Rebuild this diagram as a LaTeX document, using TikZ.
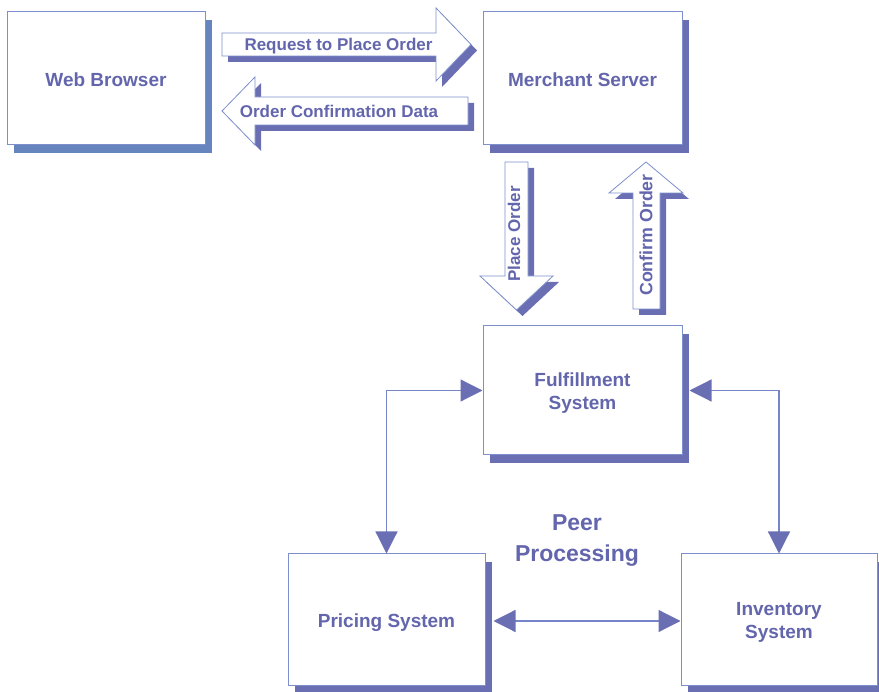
\documentclass[tikz,border=0pt]{standalone}
\usepackage{fontspec}
\setmainfont{Liberation Sans}
\usetikzlibrary{arrows.meta,shadows}
\definecolor{txt}{RGB}{99,102,173}
\definecolor{bord}{RGB}{125,143,204}
\definecolor{shd}{RGB}{106,110,178}
\definecolor{shdw}{RGB}{102,132,190}
\definecolor{con}{RGB}{118,132,200}
\begin{document}
\begin{tikzpicture}[x=1pt,y=-1pt,
  sysbox/.style={draw=bord, line width=1pt, fill=white, inner sep=0pt,
    drop shadow={shadow xshift=7pt, shadow yshift=-8pt, fill=shd, opacity=1, draw=none}},
  boxtext/.style={text=txt, font=\fontsize{19}{23}\selectfont\bfseries, align=center, yshift=-3pt, inner sep=0pt},
  blk/.style={fill=white, draw=bord, line width=0.8pt, line join=miter},
  blksh/.style={fill=shd, shift={(6,6)}},
  lbl/.style={text=txt, font=\fontsize{17}{20}\selectfont\bfseries, inner sep=0pt},
  conn/.style={draw=con, line width=1.2pt, {Triangle[length=22pt, width=22pt, color=shd]}-{Triangle[length=22pt, width=22pt, color=shd]}}
]
\useasboundingbox (0,0) rectangle (879,692);
\clip (0,0) rectangle (879,692);

% system boxes
\node[sysbox, minimum width=198pt, minimum height=133pt,
  drop shadow={shadow xshift=7pt, shadow yshift=-8pt, fill=shdw, opacity=1, draw=none},
  label={[boxtext, yshift=2pt]center:Web Browser}]
  (web) at (106,78.5) {};
\node[sysbox, minimum width=199pt, minimum height=133pt,
  label={[boxtext, yshift=2pt]center:Merchant Server}] (merch) at (582.5,78.5) {};
\node[sysbox, minimum width=199pt, minimum height=129pt,
  label={[boxtext]center:Fulfillment\\System}] (fulf) at (582.5,390.5) {};
\node[sysbox, minimum width=197pt, minimum height=131pt,
  label={[boxtext]center:Pricing System}] (price) at (386.5,619.5) {};
\node[sysbox, minimum width=196pt, minimum height=131pt,
  label={[boxtext]center:Inventory\\System}] (inv) at (779,619.5) {};

% block arrows: shadows
\fill[blksh] (222,33) -- (436,33) -- (436,8) -- (471,44.5) -- (436,81) -- (436,56) -- (222,56) -- cycle;
\fill[blksh] (468,97) -- (255,97) -- (255,77) -- (222,111) -- (255,145) -- (255,125) -- (468,125) -- cycle;
\fill[blksh] (505,162) -- (528,162) -- (528,276) -- (553,276) -- (516.5,310) -- (480,276) -- (505,276) -- cycle;
\fill[blksh] (633,309) -- (660,309) -- (660,193) -- (683,193) -- (646,162) -- (609,193) -- (633,193) -- cycle;
% block arrows
\draw[blk] (222,33) -- (436,33) -- (436,8) -- (471,44.5) -- (436,81) -- (436,56) -- (222,56) -- cycle;
\draw[blk] (468,97) -- (255,97) -- (255,77) -- (222,111) -- (255,145) -- (255,125) -- (468,125) -- cycle;
\draw[blk] (505,162) -- (528,162) -- (528,276) -- (553,276) -- (516.5,310) -- (480,276) -- (505,276) -- cycle;
\draw[blk] (633,309) -- (660,309) -- (660,193) -- (683,193) -- (646,162) -- (609,193) -- (633,193) -- cycle;

\node[lbl] (req) at (338.5,46.5) {Request to Place Order};
\node[lbl] (ocd) at (339,111) {Order Confirmation Data};
\node[lbl, rotate=90] (po) at (514,234) {Place Order};
\node[lbl, rotate=90, font=\fontsize{17.8}{20}\selectfont\bfseries] (co) at (646,235) {Confirm Order};

% peer connectors
\draw[conn] (price.north) |- (fulf.west);
\draw[conn] ([xshift=7pt]fulf.east) -| (inv.north);
\draw[conn] ([xshift=8pt,yshift=-1.5pt]price.east) -- ([yshift=-1.5pt]inv.west);

\node[text=txt, font=\fontsize{23}{31}\selectfont\bfseries, align=center] (peer) at (577,540.5) {Peer\\Processing};
\end{tikzpicture}
\end{document}
